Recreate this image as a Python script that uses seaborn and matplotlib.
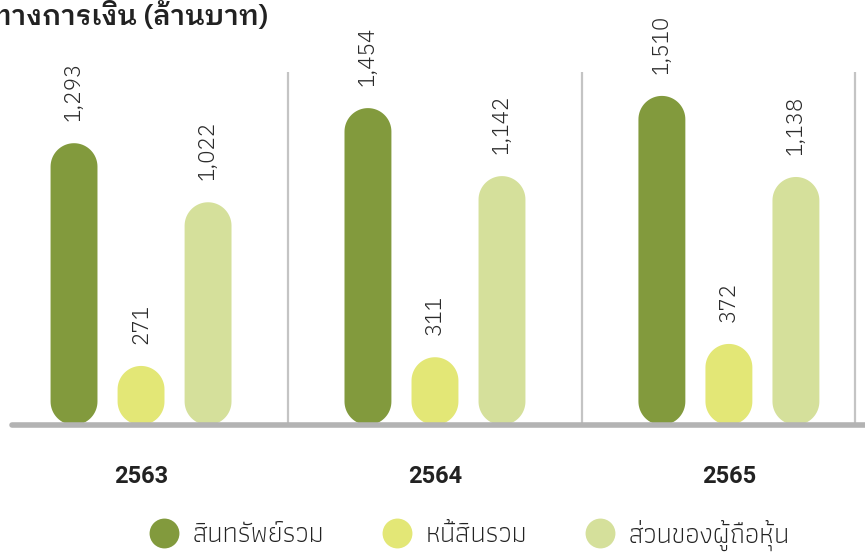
"""
Financial summary (million baht), 2563-2565 – rounded bar chart
"""
import matplotlib
matplotlib.use("Agg")
import matplotlib.pyplot as plt
from matplotlib.lines import Line2D
from matplotlib.patches import Polygon
import numpy as np
import pandas as pd
import seaborn as sns

# ── data ────────────────────────────────────────────────────────────────────
YEARS = ["2563", "2564", "2565"]
SERIES = ["สินทรัพย์รวม", "หนี้สินรวม", "ส่วนของผู้ถือหุ้น"]
ASSETS = [1293, 1454, 1510]
LIABILITIES = [271, 311, 372]
EQUITY = [1022, 1142, 1138]
COLORS = ["#829A3D", "#E3E776", "#D5E09B"]
TITLE = "ข้อมูลทางการเงิน (ล้านบาท)"

df = pd.DataFrame({
    "year": YEARS * 3,
    "series": [s for s in SERIES for _ in YEARS],
    "value": ASSETS + LIABILITIES + EQUITY,
})

sns.set_theme(style="white")
plt.rcParams["font.family"] = ["IBM Plex Sans Thai", "DejaVu Sans"]

W, H = 865, 559
fig = plt.figure(figsize=(W / 100, H / 100), dpi=100)
ax = fig.add_axes([12 / W, (H - 425) / H, (W - 12) / W, 425 / H])

sns.barplot(data=df, x="year", y="value", hue="series", hue_order=SERIES,
            palette=COLORS, saturation=1, width=0.684, gap=0.3, legend=False, ax=ax)
ax.set_xlim(-0.439, 2.463)
ax.set_ylim(0, 1950)

# swap the square bars for pill shapes (true half circles at both ends)
fig.canvas.draw()
px = ax.transData.transform([(0, 0), (1, 1)])
aspect = (px[1][0] - px[0][0]) / (px[1][1] - px[0][1])   # y units per x unit, on screen
t_top = np.linspace(0, np.pi, 40)
t_bot = np.linspace(np.pi, 2 * np.pi, 40)
for p in list(ax.patches):
    x, y, w, h = p.get_x(), p.get_y(), p.get_width(), p.get_height()
    fc = p.get_facecolor()
    p.remove()
    cx, rx = x + w / 2, w / 2
    ry = rx * aspect
    top = np.column_stack([cx + rx * np.cos(t_top), y + h - ry + ry * np.sin(t_top)])
    bot = np.column_stack([cx + rx * np.cos(t_bot), y + ry + ry * np.sin(t_bot)])
    ax.add_patch(Polygon(np.vstack([top, bot]), closed=True, fc=fc, ec="none", zorder=3))
    ax.annotate(f"{h:,.0f}", (cx, h), xytext=(0, 16), textcoords="offset points",
                rotation=90, ha="center", va="bottom", fontsize=16,
                family=["IBM Plex Sans Thai", "DejaVu Sans"], fontweight=300,
                color="#2b2b2b")

# separators + baseline
ax.vlines([0.5, 1.5, 2.43], 0, 1620, color="#c4c4c4", lw=1.6, zorder=1)
ax.axhline(0, color="#b3b3b3", lw=4, clip_on=False, zorder=4)

for s in ax.spines.values():
    s.set_visible(False)
ax.set_yticks([])
ax.set_xlabel(""); ax.set_ylabel("")
ax.tick_params(axis="x", length=0, pad=29)
for t in ax.get_xticklabels():
    t.set_fontsize(17); t.set_fontweight("bold"); t.set_color("#222222")
    t.set_family(["Roboto", "DejaVu Sans"])

fig.text(268 / W, 1 - 18 / H, TITLE, ha="right", va="center", fontsize=20,
         fontweight=600, color="#222222",
         family=["IBM Plex Sans Thai Looped", "DejaVu Sans"])

handles = [Line2D([], [], ls="", marker="o", ms=21.5, mfc=c, mec="none") for c in COLORS]
fig.legend(handles, SERIES, loc="center", bbox_to_anchor=(463 / W, 1 - 535 / H),
           ncol=3, frameon=False, handletextpad=0.05, columnspacing=1.6,
           labelcolor="#222222",
           prop={"family": ["Athiti", "DejaVu Sans"], "weight": 300, "size": 20})

fig.savefig("out.png", dpi=100)
